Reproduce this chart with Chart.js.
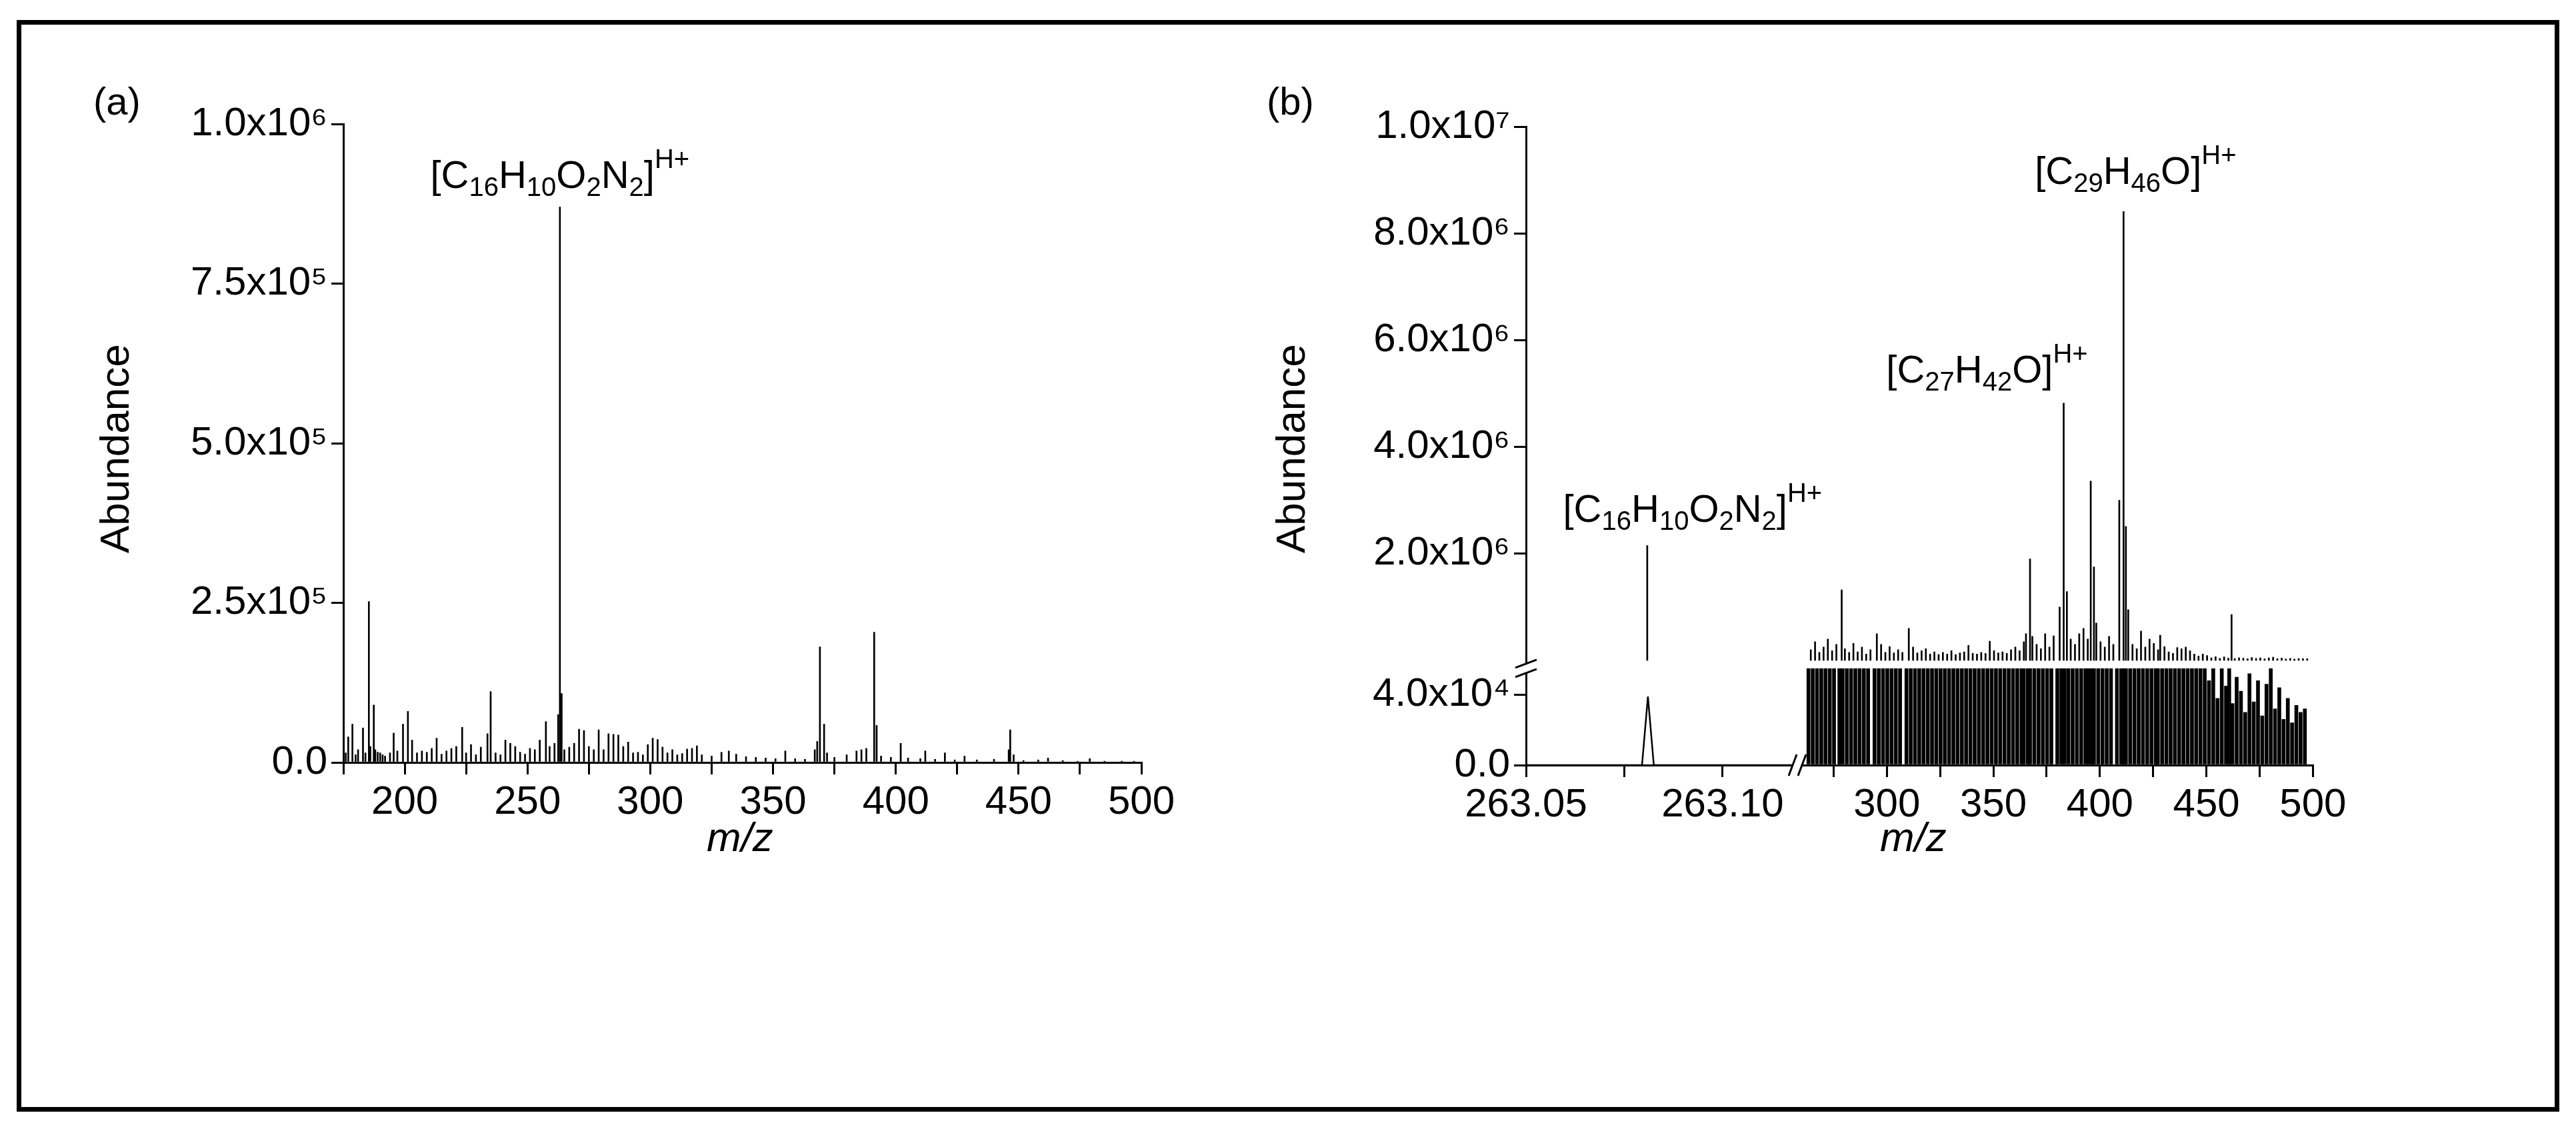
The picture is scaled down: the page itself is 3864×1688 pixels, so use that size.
<!DOCTYPE html>
<html>
<head>
<meta charset="utf-8">
<script src="https://cdn.jsdelivr.net/npm/chart.js@4/dist/chart.umd.min.js"></script>
<style>
  body { margin: 0; width: 3864px; height: 1688px; background: #fff; position: relative; overflow: hidden; font-family: 'Liberation Sans', Arial, sans-serif; }
  #frame { position: absolute; left: 25px; top: 30px; width: 3800px; height: 1624px; border: 7px solid #000; }
  canvas { position: absolute; }
  .lbl { position: absolute; font-size: 58px; color: #000; }
  .ytitle { position: absolute; font-size: 62px; transform: rotate(-90deg); transform-origin: left top; }
  .xtitle { position: absolute; font-size: 62px; font-style: italic; }
</style>
</head>
<body>
<div id="frame"></div>
<div class="lbl" style="left:140px; top:118px;">(a)</div>
<div class="lbl" style="left:1900px; top:118px;">(b)</div>
<div class="ytitle" style="left:136px; top:830px;">Abundance</div>
<div class="ytitle" style="left:1900px; top:830px;">Abundance</div>
<div class="xtitle" style="left:1060px; top:1220px;">m/z</div>
<div class="xtitle" style="left:2820px; top:1220px;">m/z</div>
<div style="position:absolute;left:185px;top:126px;width:1587px;height:1138px"><canvas id="chartA"></canvas></div>
<div style="position:absolute;left:1959px;top:130px;width:1595px;height:1138px"><canvas id="chartB"></canvas></div>
<script>
// panel (a): full spectrum
const aMz = [176,177,178.7,180,181,183,184,185.4,186,187.4,188,189,190,191,192,194,195.5,197,199.3,201.3,203,205,207,209,211,213,215,217,219,221,223.4,225,227,229,231,233.7,235,237,239,241,243,245,247,249,251,253,255,257.5,259,261,262.5,263.2,263.9,265,267,269,271,273,275,277,279,281,283,285,287,289,291,293,295,297,299,301,303,305,307,309,311,313,315,317,319,321,325,329,332,335,339,343,347,351,355,359,363,367,368,369.1,370.8,372,375,380,384,386,388,391.2,392.2,394,398,402,405,410,412,416,420,424,428,433,440,446,446.6,448,452,458,462,468,474,479,485,492,497];
const aAb = [1.5e4,4e4,6e4,1.2e4,2e4,5.4e4,1.5e4,2.52e5,2.5e4,9e4,2e4,1.6e4,1.5e4,1.2e4,1e4,1.5e4,4.6e4,1.8e4,6e4,8e4,3.5e4,1.5e4,1.8e4,1.6e4,2.2e4,3.8e4,1.3e4,1.8e4,2.2e4,2.5e4,5.5e4,1.5e4,2.8e4,1.2e4,2.4e4,4.5e4,1.11e5,1.5e4,1.2e4,3.5e4,3e4,2.5e4,1.6e4,1.3e4,2.2e4,2e4,3.5e4,6.4e4,2.5e4,3e4,7.5e4,8.7e5,1.08e5,2e4,2.4e4,3e4,5.2e4,5e4,2.5e4,2e4,5.1e4,2e4,4.5e4,4.4e4,4.3e4,2.5e4,3.2e4,1.5e4,1.6e4,1.2e4,2.8e4,3.8e4,3.6e4,2.4e4,1.5e4,2e4,1.2e4,1.4e4,2.1e4,2.2e4,2.6e4,1.2e4,1e4,1.6e4,1.8e4,1.3e4,9e3,8e3,7e3,6e3,1.8e4,6e3,5e3,2e4,3.3e4,1.81e5,6e4,1.5e4,8e3,1.2e4,1.8e4,2e4,2.2e4,2.04e5,5.8e4,1e4,8e3,3e4,7e3,6e3,1.8e4,5e3,1.5e4,4e3,1e4,4e3,5e3,2e4,5.1e4,1.2e4,3e3,4e3,7e3,3e3,2e3,6e3,2e3,2e3,2e3];
const aYTicks = [0, 2.5e5, 5e5, 7.5e5, 1e6];

// panel (b): zoom on 263.08 peak (left) and spectrum (right)
const bLeftMz = [263.04, 263.0795, 263.081, 263.0825, 263.12];
const bLeftAb = [0, 0, 3.9e4, 0, 0];
const bLeftPeakMz = 263.081;
const bLeftPeakAb = 2.15e6;
const bMz = [264,266,268,270,272,274,276,278.5,280,282,284,286,288,290,292,295,297,299,301,303,305,307,310,312,314,316,318,320,322,324,326,328,330,332,334,336,338,340,342,344,346,348,350,352,354,356,358,360,362,364,365,366.9,368,370,372,374,376,378,380.8,382.7,384.2,386,388,390,392,394,395.4,396.9,398,400,402,404,406,408.8,410.8,411.9,413,415,417,419,421,423,425,427,428,430,432,434,436,438,440,442,444,446,448,450,452,454,456,458,460,461.5,463,465,467,469,471,473,475,477,479,481,483,485,487,489,491,493,495,497];
const bAb = [2e5,3.5e5,1.5e5,2.5e5,4e5,1.8e5,3e5,1.32e6,2.2e5,1.5e5,3.2e5,1.6e5,2.5e5,1.2e5,2e5,5e5,3e5,1.5e5,2.6e5,1.4e5,2e5,1.5e5,6e5,2.5e5,1.4e5,1.8e5,2.2e5,1.2e5,1.6e5,1.1e5,1.5e5,1.2e5,1.8e5,1.1e5,1.4e5,1.6e5,2.8e5,1.3e5,1.2e5,1.5e5,1.3e5,3.6e5,1.8e5,1.4e5,1.6e5,1.3e5,2e5,2.5e5,1.8e5,3.5e5,5e5,1.9e6,4.5e5,3e5,2.2e5,5e5,2.5e5,4.6e5,1.0e6,4.82e6,1.29e6,4e5,3e5,5e5,6e5,4e5,3.36e6,1.75e6,7e5,3.5e5,2.5e5,4.5e5,3e5,3.0e6,8.41e6,2.51e6,9.5e5,3e5,2.2e5,5.5e5,2.5e5,4e5,3.2e5,2e5,4.7e5,2.6e5,1.6e5,1.3e5,2.4e5,2.2e5,2.5e5,1.8e5,1.2e5,8e4,1.2e5,9e4,4.8e4,7e4,3.8e4,6.5e4,4.5e4,8.6e5,3.5e4,5e4,4.2e4,3e4,5.2e4,3.6e4,4.8e4,2.8e4,4.6e4,6e4,3.2e4,4.4e4,2.6e4,3.8e4,2.4e4,3.4e4,3e4,3.2e4];
const bLowMax = 5.5e4;
const bLowTicks = [0, 4e4];
const bUpTicks = [2e6, 4e6, 6e6, 8e6, 1e7];

// formula pieces: [text, 0 normal / 1 subscript / 2 superscript]
const formulaC16 = [['[C', 0], ['16', 1], ['H', 0], ['10', 1], ['O', 0], ['2', 1], ['N', 0], ['2', 1], [']', 0], ['H+', 2]];
const formulaC29 = [['[C', 0], ['29', 1], ['H', 0], ['46', 1], ['O]', 0], ['H+', 2]];
const formulaC27 = [['[C', 0], ['27', 1], ['H', 0], ['42', 1], ['O]', 0], ['H+', 2]];

const FONT = "'Liberation Sans Narrow', 'Liberation Sans', Arial, sans-serif";
const SUP = {'0':'⁰','1':'¹','2':'²','3':'³','4':'⁴','5':'⁵','6':'⁶','7':'⁷','8':'⁸','9':'⁹'};

function sci(v) {
    if (v === 0) return '0.0';
    const e = Math.floor(Math.log10(v) + 1e-9);
    const m = v / Math.pow(10, e);
    return m.toFixed(1) + 'x10' + String(e).split('').map(c => SUP[c]).join('');
}

function pts(xs, ys, cap) {
    return xs.map((x, i) => ({ x: x, y: cap ? Math.min(ys[i], cap) : ys[i] }));
}

function drawFormula(ctx, parts, cx, by) {
    const big = 58, small = 40;
    let w = 0;
    parts.forEach(p => {
        ctx.font = (p[1] ? small : big) + 'px ' + FONT;
        w += ctx.measureText(p[0]).width;
    });
    let x = cx - w / 2;
    ctx.fillStyle = '#000';
    ctx.textBaseline = 'alphabetic';
    ctx.textAlign = 'left';
    parts.forEach(p => {
        ctx.font = (p[1] ? small : big) + 'px ' + FONT;
        const dy = p[1] === 1 ? 12 : (p[1] === 2 ? -30 : 0);
        ctx.fillText(p[0], x, by + dy);
        x += ctx.measureText(p[0]).width;
    });
}

const formulaPlugin = {
    id: 'formulas',
    afterDraw(chart) {
        const labels = chart.options.plugins.formulas.items || [];
        const ctx = chart.ctx;
        labels.forEach(l => {
            const x = chart.scales[l[0]].getPixelForValue(l[1]) + l[4];
            const y = chart.scales[l[2]].getPixelForValue(l[3]);
            drawFormula(ctx, l[5], x, y);
        });
    }
};

const breakPlugin = {
    id: 'breaks',
    afterDraw(chart) {
        if (!chart.scales.yu) return;
        const ctx = chart.ctx;
        const ca = chart.chartArea;
        const yb = chart.scales.yu.bottom;
        const xb = chart.scales.xl.right;
        ctx.save();
        ctx.fillStyle = '#fff';
        ctx.fillRect(ca.left - 14, yb - 6, 28, 12);
        ctx.fillRect(xb - 6, ca.bottom - 14, 12, 28);
        ctx.strokeStyle = '#000';
        ctx.lineWidth = 3;
        ctx.beginPath();
        [-7, 7].forEach(o => {
            ctx.moveTo(ca.left - 16, yb + o + 6); ctx.lineTo(ca.left + 16, yb + o - 6);
            ctx.moveTo(xb + o - 6, ca.bottom + 16); ctx.lineTo(xb + o + 6, ca.bottom - 16);
        });
        ctx.stroke();
        ctx.restore();
    }
};

function axisBase() {
    return {
        type: 'linear',
        offset: false,
        grid: { offset: false, drawOnChartArea: false, drawTicks: true, tickLength: 18, color: '#000', lineWidth: 3 },
        border: { color: '#000', width: 3 },
        ticks: { color: '#000', font: { family: FONT, size: 60 }, padding: 6 }
    };
}

function yAxis(extra, ticks) {
    const a = axisBase();
    a.position = 'left';
    a.afterFit = s => { s.width = 330; };
    a.afterBuildTicks = s => { s.ticks = ticks.map(v => ({ value: v })); };
    a.ticks.callback = v => sci(v);
    return Object.assign(a, extra);
}

function xAxis(extra, cb) {
    const a = axisBase();
    a.position = 'bottom';
    a.afterFit = s => { s.height = 120; };
    a.ticks.callback = cb;
    a.ticks.maxRotation = 0;
    a.ticks.autoSkip = false;
    return Object.assign(a, extra);
}

Chart.defaults.animation = false;
Chart.defaults.responsive = true;
Chart.defaults.maintainAspectRatio = false;
Chart.defaults.devicePixelRatio = 1;

new Chart(document.getElementById('chartA'), {
    type: 'bar',
    data: {
        datasets: [{
            data: pts(aMz, aAb),
            backgroundColor: '#000',
            barThickness: 2
        }]
    },
    options: {
        layout: { padding: { top: 60, right: 60, left: 0, bottom: 0 } },
        plugins: {
            legend: { display: false }, tooltip: { enabled: false },
            formulas: { items: [['x', 263.2, 'y', 9.0e5, 0, formulaC16]] }
        },
        scales: {
            x: xAxis({ min: 175, max: 500, ticks: Object.assign(axisBase().ticks, { stepSize: 25, maxRotation: 0, autoSkip: false, callback: v => v % 50 === 0 ? String(v) : '' }) }),
            y: yAxis({ min: 0, max: 1e6 }, aYTicks)
        }
    },
    plugins: [formulaPlugin]
});

new Chart(document.getElementById('chartB'), {
    type: 'bar',
    data: {
        datasets: [
            { type: 'line', data: pts(bLeftMz, bLeftAb), xAxisID: 'xl', yAxisID: 'yl', borderColor: '#000', borderWidth: 2.5, pointRadius: 0, tension: 0 },
            { data: [{ x: bLeftPeakMz, y: bLeftPeakAb }], xAxisID: 'xl', yAxisID: 'yu', backgroundColor: '#000', barThickness: 2 },
            { data: pts(bMz, bAb, bLowMax), xAxisID: 'xr', yAxisID: 'yl', backgroundColor: '#000', barThickness: 5 },
            { data: pts(bMz, bAb), xAxisID: 'xr', yAxisID: 'yu', backgroundColor: '#000', barThickness: 2 }
        ]
    },
    options: {
        layout: { padding: { top: 60, right: 60, left: 0, bottom: 0 } },
        plugins: {
            legend: { display: false }, tooltip: { enabled: false },
            formulas: { items: [
                ['xl', bLeftPeakMz, 'yu', 2.6e6, 67, formulaC16],
                ['xr', 410.8, 'yu', 8.93e6, 19, formulaC29],
                ['xr', 382.7, 'yu', 5.2e6, -114, formulaC27]
            ] }
        },
        scales: {
            yl: yAxis({ min: 0, max: bLowMax, stack: 'ys', stackWeight: 175 }, bLowTicks),
            yu: yAxis({ min: -1.5e5, max: 1e7, stack: 'ys', stackWeight: 980 }, bUpTicks),
            xl: xAxis({ min: 263.05, max: 263.119, stack: 'xs', stackWeight: 330,
                afterBuildTicks: s => { s.ticks = [263.05, 263.075, 263.10].map(v => ({ value: v })); } },
                v => (Math.abs(v - 263.075) < 1e-6 ? '' : v.toFixed(2))),
            xr: xAxis({ min: 258, max: 500, stack: 'xs', stackWeight: 627,
                afterBuildTicks: s => { s.ticks = [275, 300, 325, 350, 375, 400, 425, 450, 475, 500].map(v => ({ value: v })); } },
                v => v % 50 === 0 ? String(v) : '')
        }
    },
    plugins: [formulaPlugin, breakPlugin]
});
</script>
</body>
</html>
